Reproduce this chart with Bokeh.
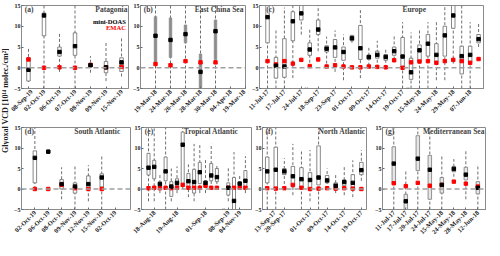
import numpy as np
from bokeh.plotting import figure
from bokeh.models import ColumnDataSource, Range1d, FixedTicker, Span, Label
from bokeh.layouts import row, column
from bokeh.embed import file_html
from bokeh.resources import INLINE

FONT = "Liberation Serif"

# ---------------- data ----------------
# (a) Patagonia
a_labels = ["08-Sep-19", "02-Oct-19", "06-Oct-19", "07-Oct-19", "08-Nov-19", "09-Nov-19", "15-Nov-19"]
a_ticks = [0, 1, 2, 3, 4, 5, 6]
a_pos = [0, 1, 2, 3, 4, 5, 6]
a_wlo = [-3.4, -5, -1.0, -5, -1.2, -3.2, -2.1]
a_q1 = [-3.2, 7.7, 2.8, 3.0, 0.3, -1.2, -0.9]
a_med = [-0.5, 12.6, 3.8, 5.2, 0.6, 0.1, 1.3]
a_q3 = [2.4, 13.2, 5.0, 8.4, 1.0, 1.5, 2.4]
a_whi = [4.6, 15, 8.4, 15, 2.8, 6.2, 7.2]
a_emac = [2.0, 0.0, 0.1, 0.0, 0.7, 0.1, 0.2]

# (b) East China Sea
b_labels = ["19-Mar-18", "24-Mar-18", "26-Mar-18", "28-Mar-18", "30-Mar-18", "04-Apr-18", "19-Mar-18"]
b_ticks = [0, 1, 2, 3, 4, 5, 6]
b_pos = [0, 1, 2, 3, 4]
b_wlo = [-5, -5, -5, -5, -5]
b_q1 = [1.2, 2.5, 6.0, -5.0, 2.0]
b_med = [7.7, 6.7, 8.1, -1.0, 8.8]
b_q3 = [12.3, 12.0, 10.3, 3.3, 11.5]
b_whi = [15, 15, 15, 15, 15]
b_emac = [0.9, 0.6, 1.6, 1.3, 1.3]

# (c) Europe
c_labels = ["11-Jul-17", "17-Jul-17", "24-Jul-17", "18-Sep-17", "23-Sep-17", "01-Oct-17", "09-Oct-17",
            "14-Oct-17", "19-Oct-17", "15-May-18", "24-May-18", "29-May-18", "07-Jun-18"]
c_ticks = [0, 2, 4, 6, 8, 10, 12, 14, 16, 18, 20, 22, 24]
c_pos = list(range(26))
c_wlo = [-5, -5, -5, -2.5, 8, 0, 4, 1, -1, -3, 6, -2.5, 0.5, 0, 0, 2, -5, -5, -5, -5, -3, -3, 1, -5, -5, 5]
c_q1 = [6, -2.5, -2.3, 6.5, 11.5, 3, 8, 3.8, 2.5, 1.8, 6.5, 2, 2, 2.3, 1.8, 3, 0, -2.8, 1.5, 2.8, 1.5, 2.8, 9.5, -1.5, 1.3, 6]
c_med = [12.2, 0.5, 0.3, 11.2, 13.1, 4.4, 9.2, 4.6, 4.9, 3.8, 7.1, 4.7, 2.6, 3.1, 2.6, 4.0, 2.7, -1.1, 4.2, 5.8, 3.1, 7.8, 12.6, 2.8, 3.1, 6.9]
c_q3 = [15, 2.5, 7, 13.5, 15, 6, 11.5, 5.3, 6.8, 5, 7.8, 10.2, 3, 4, 3.2, 5, 7.3, 2.3, 5.5, 8, 5.8, 10, 15, 5.2, 5.2, 8]
c_whi = [15, 9, 14.5, 15, 15, 9.5, 15, 7.5, 9, 8, 8, 14, 4.8, 6.5, 4.5, 8, 11, 8.5, 9, 11, 11, 15, 15, 15, 11, 11]
c_emac = [1.6, 0.8, 1.6, 1.0, 1.9, 0.4, 2.0, 0.3, 0.6, 0.3, 0.1, 0.1, 0.3, 0.2, 0.1, 1.8, 0.0, 1.3, 1.5, 1.6, 1.2, 1.6, 1.9, 1.6, 1.2, 2.1]
c_breaks = [4.5, 16.5]

# (d) South Atlantic
d_labels = ["02-Oct-19", "06-Oct-19", "08-Oct-19", "09-Nov-19", "12-Nov-19", "15-Nov-19", "02-Oct-19"]
d_ticks = [0, 1, 2, 3, 4, 5, 6]
d_pos = [0, 1, 2, 3, 4, 5]
d_wlo = [0, 8.6, -2.5, -5, -3, -5]
d_q1 = [1.5, 8.8, 0.0, -1.0, 0.0, 0.5]
d_med = [7.6, 9.1, 1.2, 0.6, 1.2, 2.8]
d_q3 = [9.3, 9.5, 2.3, 1.5, 3.2, 3.7]
d_whi = [15, 9.7, 5.3, 5.8, 5.8, 8.0]
d_emac = [0.0, 0.0, 1.0, 0.2, 0.0, 0.0]

# (e) Tropical Atlantic
e_labels = ["18-Aug-18", "19-Aug-18", "01-Sep-18", "08-Sep-19", "04-Nov-19"]
e_ticks = [1, 5, 10, 14, 16]
e_pos = [0, 1, 2, 3, 4, 5, 6, 7, 8, 9, 10, 11, 12, 14, 15, 16, 17]
e_wlo = [-3, -3, -1, -5, -3, -1, 0, -2, -3, -1, -1, 0, 0, -3, -5, 0, -1]
e_q1 = [3.4, 2.5, 0.3, 2.0, -1.8, 0.8, 1.4, 0.0, -1.0, 1.3, 1.0, 2.0, 1.8, -1.5, -5, 0.5, 0.0]
e_med = [5.2, 5.4, 1.2, 4.3, 0.6, 1.5, 10.8, 1.9, 1.7, 4.1, 1.5, 3.3, 2.9, 0.3, -2.9, 1.3, 2.0]
e_q3 = [8.7, 7.0, 1.8, 7.8, 1.8, 2.5, 13.9, 3.8, 4.8, 6.5, 2.0, 6.2, 5.0, 1.5, 2.8, 1.8, 4.5]
e_whi = [15, 15, 3.5, 15, 5, 5.5, 15, 6, 11, 11, 7.5, 11, 6, 5.5, 9, 3.5, 8]
e_emac = [0.2, 0.3, 0.2, 0.3, 0.2, 0.3, 1.0, 0.3, 0.3, 0.3, 0.8, 0.3, 0.3, 0.3, 0.3, 0.3, 0.3]
e_breaks = [13]

# (f) North Atlantic
f_labels = ["13-Sep-17", "20-Sep-17", "01-Oct-17", "09-Oct-17", "14-Oct-17", "19-Oct-17"]
f_ticks = [0, 2, 5, 7, 9, 11]
f_pos = list(range(12))
f_wlo = [-5, -5, 0, -1.5, -5, -3, -5, 0, -1, -1.5, -2, 2]
f_q1 = [1.5, 0.2, 3.5, 0.5, 0, 0, 1, 1.5, 0, 0.8, 0, 3.5]
f_med = [4.3, 4.7, 4.3, 3.1, 2.4, 2.2, 2.8, 2.1, 0.8, 1.7, 1.5, 4.6]
f_q3 = [7.8, 10.2, 5.0, 5.5, 5.2, 4.0, 10.5, 3.3, 1.5, 2.2, 3.5, 6.5]
f_whi = [15, 15, 7.5, 11, 9.5, 9.5, 15, 5, 3.5, 5.5, 7, 9.5]
f_emac = [0.2, 0.1, 0.2, 1.0, 0.3, 0.0, 0.1, 0.2, 0.1, 0.2, 0.1, 0.0]

# (g) Mediterranean Sea
g_labels = ["11-Jul-17", "17-Jul-17", "20-Jul-17", "24-Jul-17", "15-May-18", "24-May-18", "28-May-18", "12-Jun-18"]
g_ticks = [0, 1, 2, 3, 4, 5, 6, 7]
g_pos = list(range(8))
g_wlo = [-5, -5, -5, -5, -5, 3, -2.5, -5]
g_q1 = [1.3, -5, 4.5, -2.5, -1.0, 4.2, 2.2, -1.2]
g_med = [6.2, -3.0, 7.4, 4.7, 1.0, 4.9, 3.5, 0.3]
g_q3 = [10.3, -1.3, 13.0, 8.2, 2.8, 5.5, 5.3, 1.8]
g_whi = [15, 4.5, 15, 15, 8.2, 7.3, 9.2, 6.0]
g_emac = [1.4, 0.7, 1.5, 0.8, 1.0, 1.8, 1.3, 0.6]

y_ticks = [-5, 0, 5, 10, 15]


def panel(tag, name, labels, ticks, pos, wlo, q1, med, q3, whi, emac,
          xr, fw, fh, bl, br, bt, bb, name_frac, box_w, box_fill, box_line,
          breaks=None, legend=False):
    p = figure(frame_width=fw, frame_height=fh, x_range=Range1d(*xr), y_range=Range1d(-5, 15),
               toolbar_location=None, output_backend="svg",
               min_border_left=bl, min_border_right=br, min_border_top=bt, min_border_bottom=bb)
    p.background_fill_color = "white"
    p.border_fill_color = "white"
    p.outline_line_color = "#8a8a8a"
    p.outline_line_width = 1
    p.grid.visible = False

    p.add_layout(Span(location=0, dimension="width", line_color="#a0a0a0",
                      line_dash="5 3", line_width=1.3))

    src = ColumnDataSource(dict(
        x=pos, wlo=wlo, whi=whi, med=med, emac=emac,
        yc=[(a + b) / 2 for a, b in zip(q1, q3)],
        h=[b - a for a, b in zip(q1, q3)]))
    p.segment(x0="x", y0="wlo", x1="x", y1="whi", source=src,
              line_color="#4a4a4a", line_dash="3 2", line_width=0.8)
    p.rect(x="x", y="yc", width=box_w, height="h", width_units="screen", source=src,
           fill_color=box_fill, line_color=box_line, line_width=0.8)
    p.scatter(x="x", y="emac", source=src, marker="square", size=3.4,
              fill_color="red", line_color="red")
    p.scatter(x="x", y="med", source=src, marker="square", size=3.4,
              fill_color="black", line_color="black")

    for ax in (p.xaxis[0], p.yaxis[0]):
        ax.axis_line_color = "#8a8a8a"
        ax.major_tick_line_color = "#6a6a6a"
        ax.minor_tick_line_color = None
        ax.major_tick_in = 2
        ax.major_tick_out = 0
        ax.major_label_text_font = FONT
        ax.major_label_text_font_style = "bold"
        ax.major_label_text_color = "#222222"
    p.yaxis.ticker = FixedTicker(ticks=y_ticks)
    p.yaxis.major_label_text_font_size = "6px"
    p.yaxis.major_label_standoff = 1
    p.xaxis.ticker = FixedTicker(ticks=ticks)
    p.xaxis.major_label_overrides = {t: l for t, l in zip(ticks, labels)}
    p.xaxis.major_label_orientation = np.pi / 4
    p.xaxis.major_label_text_font_size = "6.5px"
    p.xaxis.major_label_standoff = 2

    span = xr[1] - xr[0]
    p.add_layout(Label(x=xr[0] + 0.03 * span, y=14.0, text=tag, text_font=FONT,
                       text_font_style="bold", text_font_size="7.5px",
                       text_baseline="middle", text_align="left"))
    p.add_layout(Label(x=xr[0] + name_frac * span, y=14.0, text=name, text_font=FONT,
                       text_font_style="bold", text_font_size="7.5px",
                       text_baseline="middle", text_align="right"))
    if legend:
        p.add_layout(Label(x=xr[0] + 0.975 * span, y=11.2, text="mini-DOAS", text_font=FONT,
                           text_font_style="bold", text_font_size="6.5px", text_color="black",
                           text_baseline="middle", text_align="right"))
        p.add_layout(Label(x=xr[0] + 0.975 * span, y=9.6, text="EMAC", text_font=FONT,
                           text_font_style="bold", text_font_size="6.5px", text_color="red",
                           text_baseline="middle", text_align="right"))
    if breaks:
        for bx in breaks:
            p.add_layout(Label(x=bx, y=-5, text="//", text_font=FONT, text_font_style="italic",
                               text_font_size="7px", text_color="#444444",
                               text_baseline="middle", text_align="center"))
    return p


GREY_FILL = "#8c8c8c"

pa = panel("(a)", "Patagonia", a_labels, a_ticks, a_pos, a_wlo, a_q1, a_med, a_q3, a_whi, a_emac,
           (-0.45, 6.45), 107, 83, 12, 1, 5, 33, 0.99, 3.5, "white", "#6a6a6a", legend=True)
pb = panel("(b)", "East China Sea", b_labels, b_ticks, b_pos, b_wlo, b_q1, b_med, b_q3, b_whi, b_emac,
           (-1, 6), 105, 83, 11, 1, 5, 33, 0.98, 2.5, GREY_FILL, "#8c8c8c")
pc = panel("(c)", "Europe", c_labels, c_ticks, c_pos, c_wlo, c_q1, c_med, c_q3, c_whi, c_emac,
           (-0.95, 25.7), 225, 83, 13, 0, 5, 33, 0.74, 3.5, "white", "#6a6a6a", breaks=c_breaks)
pd_ = panel("(d)", "South Atlantic", d_labels, d_ticks, d_pos, d_wlo, d_q1, d_med, d_q3, d_whi, d_emac,
            (-1, 7.15), 109, 82, 12, 1, 6, 31, 0.91, 3.5, "white", "#6a6a6a")
pe = panel("(e)", "Tropical Atlantic", e_labels, e_ticks, e_pos, e_wlo, e_q1, e_med, e_q3, e_whi, e_emac,
           (-1.23, 18.07), 110, 82, 9, 1, 6, 31, 0.88, 3, "white", "#6a6a6a", breaks=e_breaks)
pf = panel("(f)", "North Atlantic", f_labels, f_ticks, f_pos, f_wlo, f_q1, f_med, f_q3, f_whi, f_emac,
           (-0.55, 11.6), 104, 82, 9, 1, 6, 31, 0.99, 3.5, "white", "#6a6a6a")
pg = panel("(g)", "Mediterranean Sea", g_labels, g_ticks, g_pos, g_wlo, g_q1, g_med, g_q3, g_whi, g_emac,
           (-0.94, 7.72), 104, 82, 15, 0, 6, 31, 0.98, 3.5, "#e6e6e6", "#7a7a7a")

# y-axis title strip
py = figure(width=9, height=240, x_range=Range1d(0, 1), y_range=Range1d(0, 1),
            x_axis_type=None, y_axis_type=None, toolbar_location=None, output_backend="svg",
            min_border=0)
py.outline_line_color = None
py.grid.visible = False
py.add_layout(Label(x=0.55, y=0.583, text="Glyoxal VCD [10¹⁴ molec./cm²]", angle=np.pi / 2,
                    text_font=FONT, text_font_style="bold", text_font_size="8px",
                    text_align="center", text_baseline="middle", text_color="#222222"))

layout = row(py, column(row(pa, pb, pc), row(pd_, pe, pf, pg)))

open("out.html", "w").write(file_html(layout, INLINE))
